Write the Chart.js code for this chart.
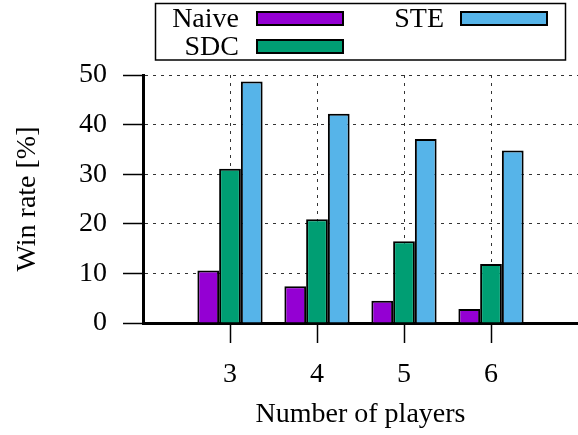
<!DOCTYPE html>
<html>
<head>
<meta charset="utf-8">
<script src="https://cdn.jsdelivr.net/npm/chart.js@4"></script>
<style>
  html, body { margin: 0; padding: 0; background: #fff; }
  #wrap { width: 578px; height: 435px; }
</style>
</head>
<body>
<div id="wrap"><canvas id="c" width="578" height="435"></canvas></div>
<script>
// ---- data ----
const categories = [3, 4, 5, 6];
const xTickLabels = ['3', '4', '5', '6'];
const seriesNames = ['Naive', 'SDC', 'STE'];
const naive = [10.6, 7.4, 4.5, 2.8];
const sdc = [31.1, 20.9, 16.5, 11.9];
const ste = [48.7, 42.2, 37.1, 34.8];
const yTicks = [0, 10, 20, 30, 40, 50];
const yTickLabels = ['0', '10', '20', '30', '40', '50'];
const colors = ['#9400d3', '#009e73', '#56b4e9'];

const FONT = 'Liberation Serif';
const FS = 28;

function pts(vals) { return categories.map((c, i) => ({ x: c, y: vals[i] })); }
const seriesVals = [naive, sdc, ste];

const datasets = seriesNames.map((n, i) => ({
  label: n,
  data: pts(seriesVals[i]),
  backgroundColor: colors[i],
  borderColor: '#000',
  borderWidth: 2,
  categoryPercentage: 0.75,
  barPercentage: 1.0
}));

const legendPlugin = {
  id: 'gpLegend',
  afterDraw(chart) {
    const ctx = chart.ctx;
    ctx.save();
    ctx.lineWidth = 1.5;
    ctx.strokeStyle = '#000';
    ctx.strokeRect(155.5, 3.5, 410, 56.5);
    const entries = [
      { t: 0, textX: 239, boxX: 257, cy: 18.5 },
      { t: 1, textX: 239, boxX: 257, cy: 46.5 },
      { t: 2, textX: 444, boxX: 461, cy: 18.5 }
    ];
    ctx.font = FS + 'px "' + FONT + '"';
    ctx.textAlign = 'right';
    ctx.textBaseline = 'middle';
    entries.forEach(e => {
      const ds = chart.data.datasets[e.t];
      ctx.fillStyle = '#000';
      ctx.fillText(ds.label, e.textX, e.cy + 1);
      ctx.fillStyle = ds.backgroundColor;
      ctx.fillRect(e.boxX, e.cy - 6.5, 86, 13);
      ctx.lineWidth = 2;
      ctx.strokeStyle = '#000';
      ctx.strokeRect(e.boxX, e.cy - 6.5, 86, 13);
    });
    ctx.restore();
  }
};

new Chart(document.getElementById('c'), {
  type: 'bar',
  data: { datasets },
  plugins: [legendPlugin],
  options: {
    responsive: false,
    animation: false,
    devicePixelRatio: 1,
    layout: { padding: { top: 75, right: 0, left: 0, bottom: 0 } },
    plugins: { legend: { display: false }, tooltip: { enabled: false } },
    scales: {
      x: {
        type: 'linear',
        min: 2, max: 7,
        offset: false,
        afterFit(s) { s.height = 112; s.paddingLeft = 0; s.paddingRight = 0; },
        afterBuildTicks(s) { s.ticks = [2, ...categories, 7].map(v => ({ value: v })); },
        ticks: {
          autoSkip: false,
          maxRotation: 0,
          padding: 15,
          color: '#000',
          font: { family: FONT, size: FS },
          callback(v) { const i = categories.indexOf(v); return i >= 0 ? xTickLabels[i] : ''; }
        },
        grid: {
          offset: false,
          color: (c) => (c.tick && categories.includes(c.tick.value)) ? '#333' : 'rgba(0,0,0,0)',
          lineWidth: 1,
          tickLength: 20,
          tickWidth: 1.5,
          tickColor: (c) => (c.tick && categories.includes(c.tick.value)) ? '#000' : 'rgba(0,0,0,0)',
          tickBorderDash: []
        },
        border: { display: true, color: '#000', width: 3, dash: [3, 5] },
        title: {
          display: true,
          text: 'Number of players',
          color: '#000',
          font: { family: FONT, size: FS },
          padding: { top: 0, bottom: 4 }
        }
      },
      y: {
        min: 0, max: 50,
        afterFit(s) { s.width = 143; s.paddingTop = 0; s.paddingBottom = 0; },
        afterBuildTicks(s) { s.ticks = yTicks.map(v => ({ value: v })); },
        ticks: {
          padding: 16,
          color: '#000',
          font: { family: FONT, size: FS },
          callback(v) { const i = yTicks.indexOf(v); return i >= 0 ? yTickLabels[i] : ''; }
        },
        grid: {
          color: (c) => (c.tick && c.tick.value > 0) ? '#333' : 'rgba(0,0,0,0)',
          lineWidth: 1,
          tickLength: 20,
          tickWidth: 1.5,
          tickColor: '#000',
          tickBorderDash: []
        },
        border: { display: true, color: '#000', width: 3, dash: [3, 5] },
        title: {
          display: true,
          text: 'Win rate [%]',
          color: '#000',
          font: { family: FONT, size: FS },
          padding: { top: 11, bottom: 0 }
        }
      }
    }
  }
});
</script>
</body>
</html>
